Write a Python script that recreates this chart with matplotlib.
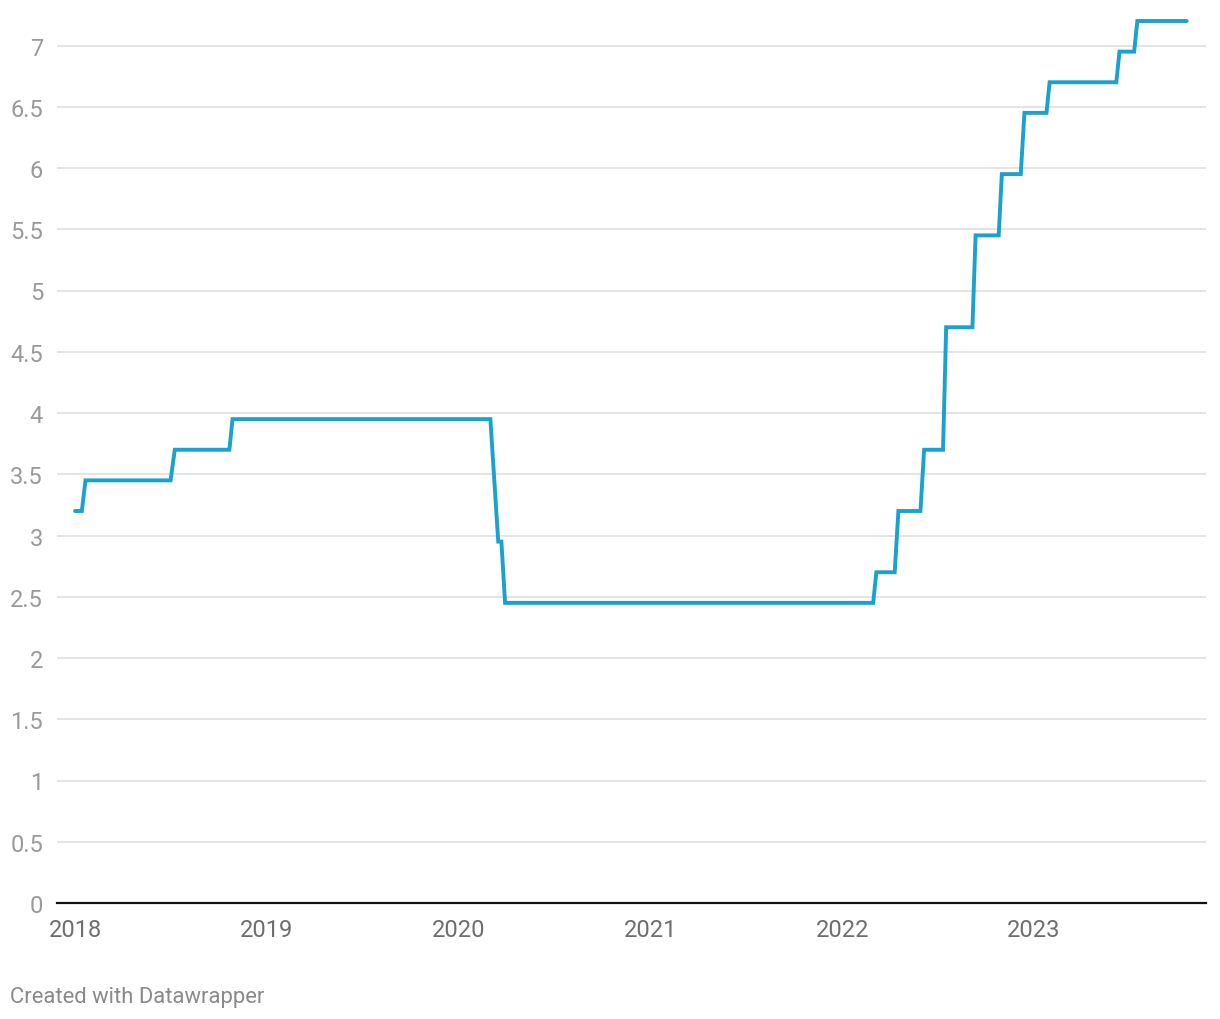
import matplotlib
matplotlib.use("Agg")
import matplotlib.pyplot as plt
import matplotlib.dates as mdates
import numpy as np

# rate change points (before / after each step)
dates = [
    "2018-01-01", "2018-01-14", "2018-01-21",
    "2018-07-02", "2018-07-10",
    "2018-10-22", "2018-10-28",
    "2020-03-02", "2020-03-17", "2020-03-23", "2020-03-30",
    "2022-03-01", "2022-03-07",
    "2022-04-11", "2022-04-18",
    "2022-05-30", "2022-06-06",
    "2022-07-12", "2022-07-18",
    "2022-09-06", "2022-09-12",
    "2022-10-26", "2022-11-01",
    "2022-12-07", "2022-12-14",
    "2023-01-25", "2023-01-31",
    "2023-06-07", "2023-06-13",
    "2023-07-11", "2023-07-17",
    "2023-10-19",
]
rates = [
    3.20, 3.20, 3.45,
    3.45, 3.70,
    3.70, 3.95,
    3.95, 2.95, 2.95, 2.45,
    2.45, 2.70,
    2.70, 3.20,
    3.20, 3.70,
    3.70, 4.70,
    4.70, 5.45,
    5.45, 5.95,
    5.95, 6.45,
    6.45, 6.70,
    6.70, 6.95,
    6.95, 7.20,
    7.20,
]
year_ticks = ["2018", "2019", "2020", "2021", "2022", "2023"]
y_ticks = [0, 0.5, 1, 1.5, 2, 2.5, 3, 3.5, 4, 4.5, 5, 5.5, 6, 6.5, 7]

plt.rcParams["font.family"] = ["Roboto", "DejaVu Sans"]

W, H = 1220, 1020
fig = plt.figure(figsize=(W / 100, H / 100), dpi=100)
y0_px, y7_px = 904, 46.5
per_unit = (y0_px - y7_px) / 7
ymax = 7.3
top_px = y0_px - ymax * per_unit
ax = fig.add_axes([57 / W, 1 - y0_px / H, (1206 - 57) / W, (y0_px - top_px) / H])

x = np.array(dates, dtype="datetime64[D]")
ax.plot(x, rates, color="#1aa1cc", lw=2.8, solid_capstyle="round",
        solid_joinstyle="miter", zorder=3)

# x scale: 2018-01-01 at px 75, ~191.8 px per year
x2018 = mdates.date2num(np.datetime64("2018-01-01"))
px_per_day = 191.8 / 365.25
ax.set_xlim(x2018 - (75 - 57) / px_per_day, x2018 + (1206 - 75) / px_per_day)
ax.set_ylim(0, ymax)

ax.set_yticks(y_ticks)
ax.set_yticklabels([f"{v:g}" for v in y_ticks])
ax.set_xticks([np.datetime64(f"{y}-01-01") for y in year_ticks])
ax.set_xticklabels(year_ticks)

ax.grid(axis="y", color="#e2e2e2", lw=1.3, zorder=0)
ax.grid(axis="x", visible=False)
ax.tick_params(axis="y", length=0, pad=10, labelsize=17, labelcolor="#9a9a9a")
ax.tick_params(axis="x", length=0, pad=11, labelsize=17, labelcolor="#6e6e6e")
for s in ["top", "right", "left"]:
    ax.spines[s].set_visible(False)
ax.spines["bottom"].set_color("#111111")
ax.spines["bottom"].set_linewidth(1.6)
ax.spines["bottom"].set_zorder(4)

fig.text(10 / W, 1 - 998 / H, "Created with Datawrapper", fontsize=15.8,
         color="#8a8a8a", va="center", ha="left")

fig.savefig("out.png", dpi=100)
